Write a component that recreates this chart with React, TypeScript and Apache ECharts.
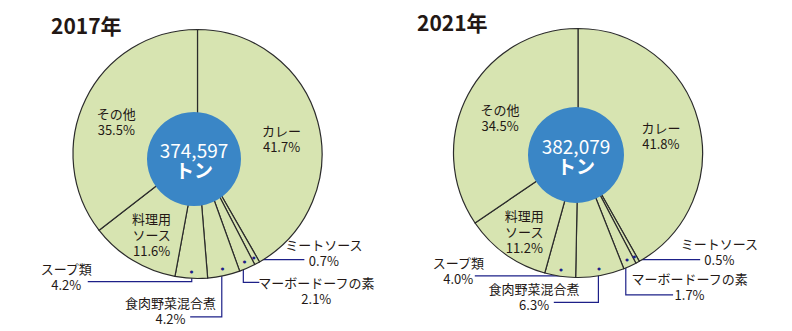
import React, { useEffect, useRef } from "react";
import * as echarts from "echarts";

// ---- data ----
const categories = ["カレー", "ミートソース", "マーボードーフの素", "食肉野菜混合煮", "スープ類", "料理用ソース", "その他"];
const labelNames = ["カレー", "ミートソース", "マーボードーフの素", "食肉野菜混合煮", "スープ類", "料理用\nソース", "その他"];
const share2017 = [41.7, 0.7, 2.1, 4.2, 4.2, 11.6, 35.5];
const share2021 = [41.8, 0.5, 1.7, 6.3, 4.0, 11.2, 34.5];
const years = ["2017年", "2021年"];
const totals = ["374,597", "382,079"];
const unit = "トン";

// ---- layout / style ----
const FONT = '"Noto Sans CJK JP", "Noto Sans", sans-serif';
const TEXT = "#231815";
const GREEN = "#d7e4b1";
const BLUE = "#3a86c6";
const NAVY = "#1d2088";
const R = 124.5;
const DOT = 0.92;
const insideIdx = [0, 5, 6];

type Callout = { end: [number, number]; block: [number, number] };
const pies: {
  shares: number[];
  center: [number, number];
  hub: [number, number];
  hubR: number;
  title: [number, number];
  inside: Record<number, [number, number]>;
  callouts: Record<number, Callout>;
}[] = [
  {
    shares: share2017,
    center: [197.5, 154],
    hub: [194, 159],
    hubR: 47,
    title: [51, 24.5],
    inside: { 0: [21, 1], 5: [-12, 25], 6: [-22.6, -4] },
    callouts: {
      1: { end: [52, 5], block: [19.5, -7] },
      2: { end: [16, 23.3], block: [57, 8.5] },
      3: { end: [-31.6, 51], block: [-19.7, -6.3] },
      4: { end: [-104, 13.3], block: [-21.5, -5.5] },
    },
  },
  {
    shares: share2021,
    center: [578, 153],
    hub: [576, 155],
    hubR: 48,
    title: [417, 21.7],
    inside: { 0: [19.8, -0.6], 5: [-15.7, 25.4], 6: [-20.3, -5.4] },
    callouts: {
      1: { end: [67.3, 6], block: [19.2, -8] },
      2: { end: [47.3, 37.7], block: [16.5, -8] },
      3: { end: [-44.6, 36.7], block: [-19.7, -5.5] },
      4: { end: [-86.7, 9.6], block: [-16.5, -5.3] },
    },
  },
];

export default function App() {
  const ref = useRef<HTMLDivElement>(null);
  useEffect(() => {
    if (!ref.current) return;
    const chart = echarts.init(ref.current, undefined, { renderer: "svg" });
    const series: any[] = [];
    const graphic: any[] = [];
    pies.forEach((pie, p) => {
      const [cx, cy] = pie.center;
      const layout = (params: any) => {
        const i = params.dataIndex;
        if (insideIdx.includes(i)) {
          const r = params.labelRect;
          const lx = r.x + r.width / 2;
          const ly = r.y + r.height / 2;
          const o = pie.inside[i];
          return { x: lx + o[0], y: ly + o[1], align: "center", verticalAlign: "middle" };
        }
        const pts = params.labelLinePoints;
        const c = pie.callouts[i];
        if (!pts || !c) return {};
        const dot = [cx + (pts[0][0] - cx) * DOT, cy + (pts[0][1] - cy) * DOT];
        const end = [dot[0] + c.end[0], dot[1] + c.end[1]];
        return {
          x: end[0] + c.block[0],
          y: end[1] + c.block[1],
          align: "center",
          verticalAlign: "middle",
          labelLinePoints: [dot, [dot[0], end[1]], end],
        };
      };
      series.push({
        type: "pie",
        center: pie.center,
        radius: [0, R],
        startAngle: 90,
        clockwise: true,
        avoidLabelOverlap: false,
        silent: true,
        itemStyle: { color: GREEN, borderColor: "#2b2b2b", borderWidth: 1.2 },
        label: {
          show: true,
          rotate: 0,
          overflow: "none",
          fontFamily: FONT,
          fontSize: 13,
          lineHeight: 16,
          color: TEXT,
          align: "center",
          formatter: (prm: any) => `${labelNames[prm.dataIndex]}\n${Number(prm.value).toFixed(1)}%`,
        },
        labelLine: { show: true, length: 10, length2: 10, lineStyle: { color: NAVY, width: 1.2 } },
        labelLayout: layout,
        data: categories.map((name, i) => ({
          name,
          value: pie.shares[i],
          label: { position: insideIdx.includes(i) ? "inside" : "outside" },
          labelLine: { show: !insideIdx.includes(i) },
        })),
      });
      // dots marking the small slices
      series.push({
        type: "pie",
        center: pie.center,
        radius: [R * (2 * DOT - 1), R],
        startAngle: 90,
        clockwise: true,
        silent: true,
        avoidLabelOverlap: false,
        itemStyle: { color: "rgba(0,0,0,0)", borderWidth: 0 },
        label: {
          show: true,
          position: "inside",
          rotate: 0,
          fontSize: 4,
          color: NAVY,
          fontFamily: "DejaVu Sans",
          formatter: (prm: any) => (pie.callouts[prm.dataIndex] ? "●" : ""),
        },
        labelLine: { show: false },
        data: categories.map((name, i) => ({ name, value: pie.shares[i] })),
      });
      // center hub with total
      series.push({
        type: "pie",
        center: pie.hub,
        radius: [0, pie.hubR],
        silent: true,
        itemStyle: { color: BLUE, borderWidth: 0 },
        label: {
          show: true,
          position: "center",
          formatter: `{a|${totals[p]}}\n{b|${unit}}`,
          rich: {
            a: { fontFamily: FONT, fontSize: 19, color: "#ffffff", lineHeight: 20 },
            b: { fontFamily: FONT, fontSize: 19, fontWeight: "bold", color: "#ffffff", lineHeight: 20 },
          },
        },
        labelLine: { show: false },
        data: [{ name: "total", value: 1 }],
      });
      graphic.push({
        type: "text",
        x: pie.title[0],
        y: pie.title[1],
        style: {
          text: years[p],
          font: `bold 21px ${FONT}`,
          fill: TEXT,
          textVerticalAlign: "middle",
          textAlign: "left",
        },
      });
    });
    chart.setOption({
      animation: false,
      backgroundColor: "#ffffff",
      series,
      graphic,
    });
    return () => chart.dispose();
  }, []);
  return (
    <div
      ref={ref}
      style={{ position: "absolute", left: 0, top: 0, width: 792, height: 331 }}
    />
  );
}
